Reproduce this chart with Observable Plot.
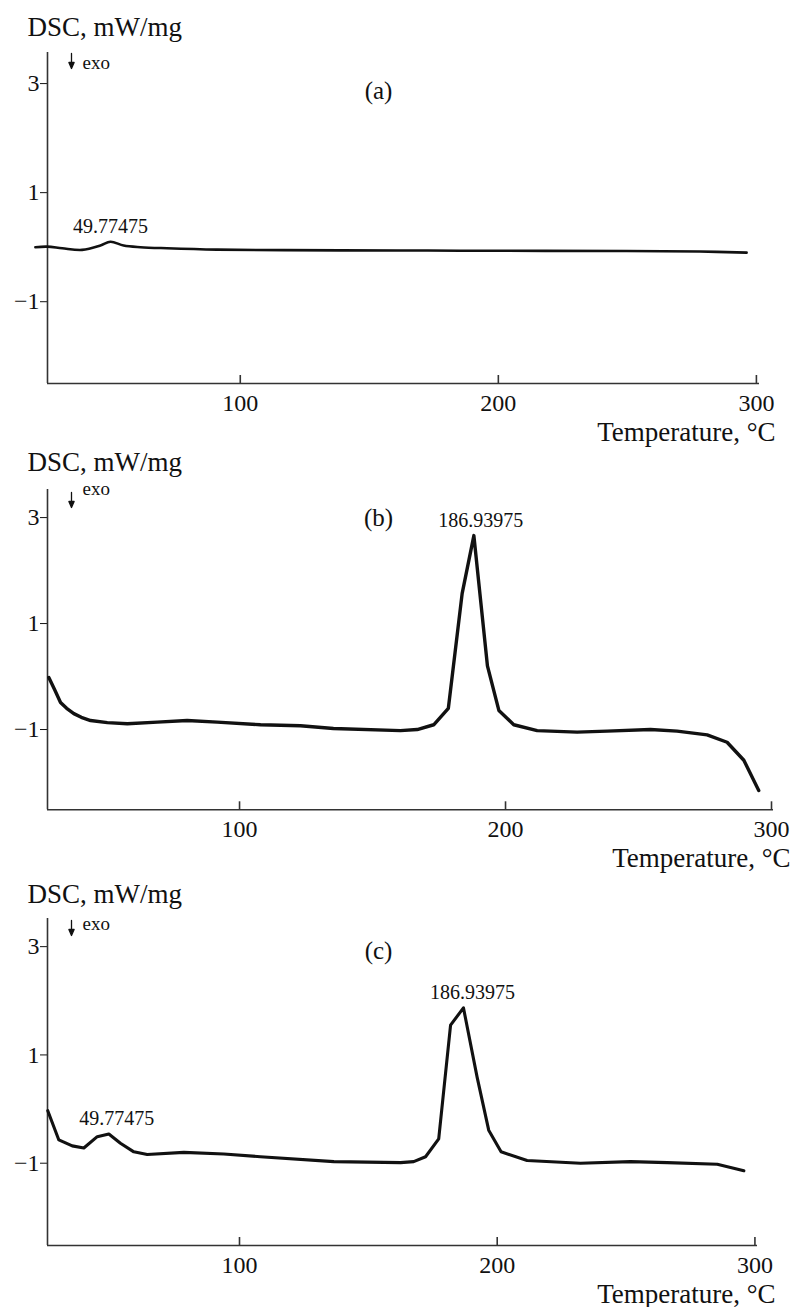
<!DOCTYPE html>
<html>
<head>
<meta charset="utf-8">
<script src="https://cdn.jsdelivr.net/npm/d3@7"></script>
<script src="https://cdn.jsdelivr.net/npm/@observablehq/plot@0.6"></script>
<style>
  html, body { margin: 0; padding: 0; background: white; }
  #chart svg { display: block; }
</style>
</head>
<body>
<div id="chart"></div>
<script>
// ---- Data ----
const xTicks = [100, 200, 300];
const yTicks = [-1, 1, 3];
const yTitle = "DSC, mW/mg";
const xTitle = "Temperature, \u00B0C";
const exoText = "exo";
const panelNames = ["(a)", "(b)", "(c)"];

// Panel (a)
const tempA = [20.6, 25.2, 31, 38.7, 45.8, 49.7, 54.8, 61.3, 71.6, 91, 116.8, 161.9, 185.2, 249.7, 278, 296.2];
const dscA  = [0.0, 0.01, -0.02, -0.05, 0.03, 0.10, 0.03, 0.0, -0.02, -0.045, -0.055, -0.06, -0.065, -0.07, -0.08, -0.10];
const peakTempA = [49.7];
const peakDscA = [0.10];
const peakTextA = ["49.77475"];

// Panel (b)
const tempB = [28.3, 30.5, 32.7, 35, 37.7, 40.5, 44, 50.3, 57.8, 69.1, 80.3, 91.6, 107.9, 122.9, 135.3, 160.5, 166.8, 173, 178.5, 183.7, 188.1, 193.2, 197.5, 203.1, 211.9, 226.9, 238.2, 254.5, 264.5, 275.8, 283.3, 289.6, 295.2];
const dscB  = [-0.02, -0.25, -0.49, -0.6, -0.70, -0.77, -0.83, -0.87, -0.89, -0.86, -0.83, -0.86, -0.91, -0.93, -0.98, -1.02, -1.0, -0.91, -0.6, 1.57, 2.66, 0.2, -0.64, -0.91, -1.02, -1.05, -1.03, -1.0, -1.03, -1.10, -1.24, -1.58, -2.15];
const peakTempB = [188.1];
const peakDscB = [2.66];
const peakTextB = ["186.93975"];

// Panel (c)
const tempC = [25.6, 29.9, 35.1, 39.6, 44.8, 49.3, 53.8, 59.0, 64.2, 78.4, 93.9, 108.1, 136.6, 162.5, 167.6, 172.2, 177.3, 181.9, 186.9, 192.2, 196.7, 201.5, 211.6, 232.3, 251.7, 266, 285.4, 295.7];
const dscC  = [-0.03, -0.57, -0.68, -0.72, -0.51, -0.46, -0.63, -0.79, -0.84, -0.80, -0.83, -0.88, -0.97, -0.99, -0.97, -0.88, -0.55, 1.55, 1.87, 0.59, -0.39, -0.79, -0.95, -1.0, -0.97, -0.99, -1.02, -1.14];
const peakTempC = [49.3, 186.9];
const peakDscC = [-0.46, 1.87];
const peakTextC = ["49.77475", "186.93975"];

// ---- Layout ----
const FONT = "Liberation Serif, Times New Roman, serif";
const AXIS = "#333";
const panels = [
  {name: panelNames[0], temp: tempA, dsc: dscA, pT: peakTempA, pV: peakDscA, pS: peakTextA, pDx: [0],
   curve: "catmull-rom", sw: 2.6,
   height: 448, mt: 52, mb: 65, mr: 34, xd: [25.3, 301.2], yd: [-2.5, 3.57],
   titleDy: -17, arrowDy: 1, exoDy: 10, nameDy: 38, tempDx: 16},
  {name: panelNames[1], temp: tempB, dsc: dscB, pT: peakTempB, pV: peakDscB, pS: peakTextB, pDx: [7],
   curve: "linear", sw: 3.4,
   height: 426, mt: 41, mb: 64.7, mr: 20, xd: [27.8, 300.75], yd: [-2.515, 3.53],
   titleDy: -19, arrowDy: 3, exoDy: -1, nameDy: 28, tempDx: 17},
  {name: panelNames[2], temp: tempC, dsc: dscC, pT: peakTempC, pV: peakDscC, pS: peakTextC, pDx: [8, 9],
   curve: "linear", sw: 3.1,
   height: 433, mt: 44, mb: 62, mr: 36, xd: [25.5, 301], yd: [-2.52, 3.52],
   titleDy: -16, arrowDy: 2, exoDy: 5, nameDy: 32, tempDx: 18}
];

const fmt = d => d < 0 ? "\u2212" + Math.abs(d) : String(d);

// thin stem with a filled narrow head, pointing along the vector
const exoArrow = {
  draw(context, l) {
    context.moveTo(0, 0);
    context.lineTo(0, -l + 5);
    context.moveTo(-2.6, -l + 6);
    context.lineTo(0, -l);
    context.lineTo(2.6, -l + 6);
    context.closePath();
  }
};

const chart = document.getElementById("chart");
for (const p of panels) {
  const frameH = p.height - p.mt - p.mb;
  const pts = p.temp.map((t, i) => ({t, v: p.dsc[i]}));
  const peaks = p.pT.map((t, i) => ({t, v: p.pV[i], s: p.pS[i], dx: p.pDx[i]}));
  const svg = Plot.plot({
    width: 793,
    height: p.height,
    marginLeft: 47,
    marginRight: p.mr,
    marginTop: p.mt,
    marginBottom: p.mb,
    style: {fontFamily: FONT, fontSize: "24px", color: "#111", background: "white"},
    x: {domain: p.xd, ticks: xTicks, tickSize: 0, tickPadding: 10, label: null, tickFormat: fmt},
    y: {domain: p.yd, ticks: yTicks, tickSize: 7, tickPadding: 1, label: null, tickFormat: fmt},
    marks: [
      Plot.ruleX([p.xd[0]], {stroke: AXIS, strokeWidth: 1.6}),
      Plot.ruleY([p.yd[0]], {stroke: AXIS, strokeWidth: 1.6}),
      Plot.ruleX(xTicks, {stroke: AXIS, strokeWidth: 1.6, insetTop: frameH - 8}),
      Plot.line(pts, {x: "t", y: "v", curve: p.curve, stroke: "#111", strokeWidth: p.sw, strokeLinejoin: "round", strokeLinecap: "round"}),
      ...peaks.map(q => Plot.text([q], {x: "t", y: "v", text: "s", dx: q.dx, dy: -15, fontSize: 20, fill: "#111"})),
      Plot.text([yTitle], {frameAnchor: "top-left", textAnchor: "start", lineAnchor: "bottom", dx: -20, dy: p.titleDy, fontSize: 27, fill: "#111"}),
      Plot.vector([0], {frameAnchor: "top-left", dx: 24, dy: p.arrowDy, length: 15, rotate: 180, anchor: "start", shape: exoArrow, stroke: "#111", fill: "#111", strokeWidth: 1.3}),
      Plot.text([exoText], {frameAnchor: "top-left", textAnchor: "start", lineAnchor: "middle", dx: 35, dy: p.exoDy, fontSize: 19, fill: "#111"}),
      Plot.text([p.name], {frameAnchor: "top-left", textAnchor: "middle", lineAnchor: "middle", dx: 331, dy: p.nameDy, fontSize: 25, fill: "#111"}),
      Plot.text([xTitle], {frameAnchor: "bottom-right", textAnchor: "end", lineAnchor: "bottom", dx: p.tempDx, dy: 57, fontSize: 27, fill: "#111"})
    ]
  });
  chart.appendChild(svg);
}
</script>
</body>
</html>
